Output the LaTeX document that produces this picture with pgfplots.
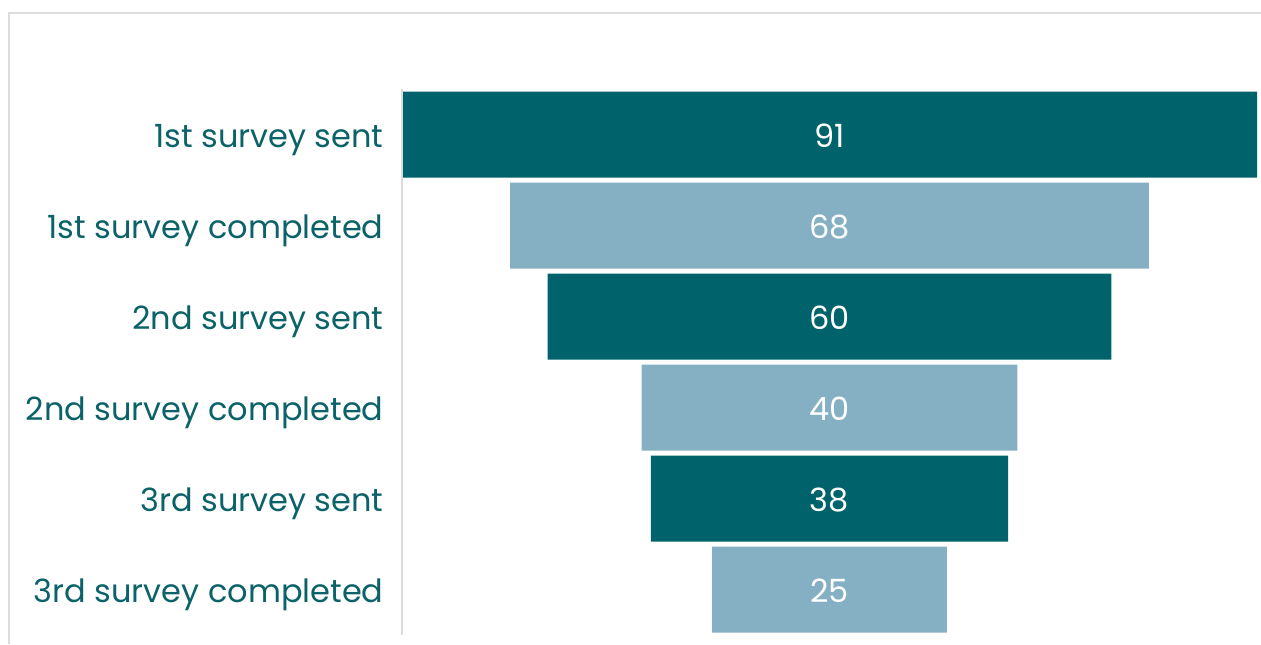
\documentclass[border=0pt]{standalone}
\usepackage{fontspec}
\setmainfont{Poppins}
\usepackage{pgfplots}
\usepackage{pgfplotstable}
\pgfplotsset{compat=1.18}
\definecolor{tealdark}{HTML}{00626A}
\definecolor{teallight}{HTML}{85B0C4}
\definecolor{labeltxt}{HTML}{0B6268}
\definecolor{frame}{HTML}{DCDCDC}
\pgfplotstableread{
y v
0 91
1 68
2 60
3 40
4 38
5 25
}\funnel
\begin{document}
\begin{tikzpicture}
\useasboundingbox (0,0) rectangle (630.5pt,322pt);
% outer frame (top and left edges visible)
\draw[frame, line width=1pt] (4.5pt,0pt) -- (4.5pt,315.25pt) -- (630.5pt,315.25pt);
\begin{axis}[
  at={(201pt,4.5pt)}, anchor=south west,
  scale only axis, width=427.5pt, height=273pt,
  xmin=0, xmax=91, ymin=-0.5, ymax=5.5,
  y dir=reverse,
  xbar stacked, bar width=43pt,
  axis line style={draw=none},
  major tick length=0pt,
  xtick=\empty,
  ytick={0,1,2,3,4,5},
  yticklabels={1st survey sent,1st survey completed,2nd survey sent,2nd survey completed,3rd survey sent,3rd survey completed},
  yticklabel style={font=\fontsize{16}{20}\selectfont, color=labeltxt, inner sep=0pt, anchor=base east, xshift=-9pt, yshift=-6.65pt},
  clip=false,
]
% invisible offset that centres each bar of the funnel
\addplot[draw=none, fill=none] table[x expr=(91-\thisrow{v})/2, y=y] {\funnel};
\addplot[draw=none, fill=tealdark] table[x expr={mod(\thisrow{y},2)==0 ? \thisrow{v} : 0}, y=y] {\funnel};
\addplot[draw=none, fill=teallight] table[x expr={mod(\thisrow{y},2)==1 ? \thisrow{v} : 0}, y=y] {\funnel};
\end{axis}
\begin{axis}[
  at={(201pt,4.5pt)}, anchor=south west,
  scale only axis, width=427.5pt, height=273pt,
  xmin=-45.5, xmax=45.5, ymin=-0.5, ymax=5.5,
  y dir=reverse, hide axis, clip=false,
  /pgf/number format/assume math mode=true,
]
\addplot[only marks, mark=none, point meta=explicit,
  nodes near coords,
  every node near coord/.style={font=\fontsize{16}{20}\selectfont, color=white, anchor=base, inner sep=0pt, yshift=-6.4pt}]
  table[x expr=0, y=y, meta=v] {\funnel};
\end{axis}
% left axis line
\draw[frame, line width=0.75pt] (201pt,4.5pt) -- (201pt,277.5pt);
\end{tikzpicture}
\end{document}
